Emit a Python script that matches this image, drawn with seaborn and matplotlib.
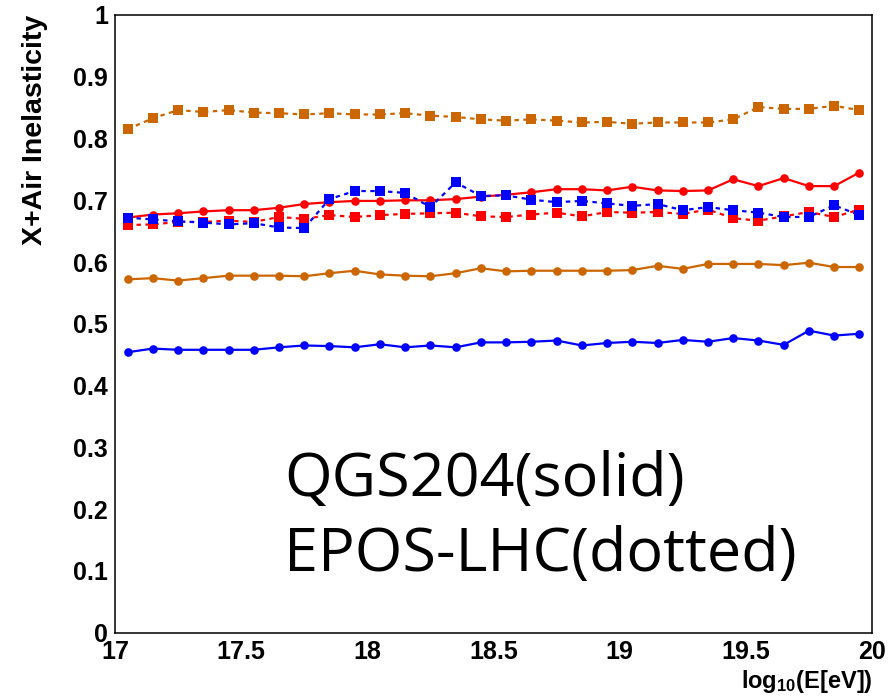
import matplotlib
matplotlib.use("Agg")
import matplotlib.pyplot as plt
import seaborn as sns
import pandas as pd
from matplotlib.ticker import MultipleLocator, FuncFormatter

# Energy bin centres, log10(E/eV)
energy = [17.05, 17.15, 17.25, 17.35, 17.45, 17.55, 17.65, 17.75, 17.85, 17.95,
          18.05, 18.15, 18.25, 18.35, 18.45, 18.55, 18.65, 18.75, 18.85, 18.95,
          19.05, 19.15, 19.25, 19.35, 19.45, 19.55, 19.65, 19.75, 19.85, 19.95]

# QGSJet-II-04 (solid lines, circles)
qgs_orange = [0.572, 0.574, 0.570, 0.574, 0.578, 0.578, 0.578, 0.577, 0.582, 0.586,
              0.580, 0.578, 0.577, 0.582, 0.590, 0.585, 0.586, 0.586, 0.586, 0.586,
              0.587, 0.594, 0.589, 0.597, 0.597, 0.597, 0.595, 0.599, 0.592, 0.592]
qgs_red = [0.672, 0.677, 0.679, 0.682, 0.684, 0.684, 0.688, 0.694, 0.697, 0.699,
           0.699, 0.700, 0.700, 0.702, 0.706, 0.709, 0.713, 0.718, 0.718, 0.716,
           0.722, 0.716, 0.715, 0.716, 0.734, 0.723, 0.736, 0.723, 0.723, 0.745]
qgs_blue = [0.454, 0.460, 0.458, 0.458, 0.458, 0.458, 0.462, 0.465, 0.464, 0.462,
            0.467, 0.462, 0.465, 0.462, 0.470, 0.470, 0.471, 0.473, 0.465, 0.469,
            0.471, 0.469, 0.474, 0.471, 0.477, 0.473, 0.466, 0.489, 0.481, 0.484]

# EPOS-LHC (dotted lines, squares)
epos_orange = [0.815, 0.833, 0.846, 0.843, 0.846, 0.842, 0.841, 0.839, 0.841, 0.839,
               0.839, 0.841, 0.837, 0.835, 0.831, 0.829, 0.831, 0.829, 0.826, 0.827,
               0.824, 0.826, 0.826, 0.826, 0.831, 0.851, 0.848, 0.848, 0.853, 0.846]
epos_red = [0.660, 0.661, 0.665, 0.665, 0.667, 0.665, 0.673, 0.670, 0.676, 0.673,
            0.676, 0.678, 0.679, 0.680, 0.674, 0.673, 0.677, 0.680, 0.674, 0.681,
            0.680, 0.681, 0.678, 0.685, 0.671, 0.667, 0.674, 0.681, 0.673, 0.685]
epos_blue = [0.672, 0.669, 0.666, 0.664, 0.661, 0.663, 0.656, 0.655, 0.702, 0.715,
             0.715, 0.712, 0.689, 0.729, 0.707, 0.708, 0.701, 0.697, 0.699, 0.695,
             0.691, 0.694, 0.684, 0.689, 0.684, 0.680, 0.673, 0.673, 0.692, 0.676]

ORANGE = "#cc6600"
RED = "#ff0000"
BLUE = "#0000ff"

series = [
    ("QGS orange", qgs_orange, ORANGE, "o", False),
    ("EPOS orange", epos_orange, ORANGE, "s", True),
    ("QGS red", qgs_red, RED, "o", False),
    ("EPOS red", epos_red, RED, "s", True),
    ("QGS blue", qgs_blue, BLUE, "o", False),
    ("EPOS blue", epos_blue, BLUE, "s", True),
]

frames = []
for name, vals, *_ in series:
    frames.append(pd.DataFrame({"energy": energy, "inelasticity": vals, "series": name}))
df = pd.concat(frames, ignore_index=True)

sns.set_theme(style="white")
plt.rcParams["font.family"] = ["Liberation Sans", "DejaVu Sans"]
plt.rcParams["mathtext.fontset"] = "custom"
plt.rcParams["mathtext.rm"] = "Liberation Sans:bold"
plt.rcParams["mathtext.default"] = "rm"

W, H = 894, 700
fig = plt.figure(figsize=(W / 100, H / 100), dpi=100)
fig.patch.set_facecolor("white")
left, right, top, bottom = 115, 872, 15, 632.7
ax = fig.add_axes([left / W, (H - bottom) / H, (right - left) / W, (bottom - top) / H])

for z, (name, vals, color, marker, dotted) in enumerate(series):
    sub = df[df["series"] == name]
    sns.lineplot(
        data=sub, x="energy", y="inelasticity", ax=ax,
        color=color, marker=marker,
        markersize=6.2 if marker == "o" else 7.0,
        markeredgewidth=0, linewidth=1.6,
        linestyle=(0, (2, 2)) if dotted else "-",
        errorbar=None, sort=False, legend=False, zorder=3 + z,
    )

ax.set_xlim(17, 20)
ax.set_ylim(0, 1)
ax.set_xlabel("")
ax.set_ylabel("")

for s in ax.spines.values():
    s.set_visible(True)
    s.set_color("black")
    s.set_linewidth(1.1)

ax.xaxis.set_major_locator(MultipleLocator(0.5))
ax.xaxis.set_minor_locator(MultipleLocator(0.1))
ax.yaxis.set_major_locator(MultipleLocator(0.1))
ax.yaxis.set_minor_locator(MultipleLocator(0.02))
fmt = FuncFormatter(lambda v, _: f"{v:g}")
ax.xaxis.set_major_formatter(fmt)
ax.yaxis.set_major_formatter(fmt)

ax.tick_params(axis="both", which="both", direction="in", color="black",
               top=False, right=False, width=1.0)
ax.tick_params(axis="y", which="major", length=16, pad=5)
ax.tick_params(axis="y", which="minor", length=8)
ax.tick_params(axis="x", which="major", length=13, pad=5)
ax.tick_params(axis="x", which="minor", length=6.5)
for lab in ax.get_xticklabels() + ax.get_yticklabels():
    lab.set_fontweight("bold")
    lab.set_fontsize(18)
    lab.set_color("black")

fig.text(35 / W, (H - 15) / H, "X+Air Inelasticity", rotation=90,
         ha="center", va="top", fontsize=20.5, fontweight="bold", color="black")
fig.text(873 / W, (H - 688) / H, r"log$_{10}$(E[eV])",
         ha="right", va="baseline", fontsize=17, fontweight="bold", color="black")

fig.text(284 / W, (H - 496) / H, "QGS204(solid)", family="Open Sans",
         fontsize=44, ha="left", va="baseline", color="black")
fig.text(284 / W, (H - 571) / H, "EPOS-LHC(dotted)", family="Open Sans",
         fontsize=44, ha="left", va="baseline", color="black")

fig.savefig("out.png", dpi=100, facecolor="white")
